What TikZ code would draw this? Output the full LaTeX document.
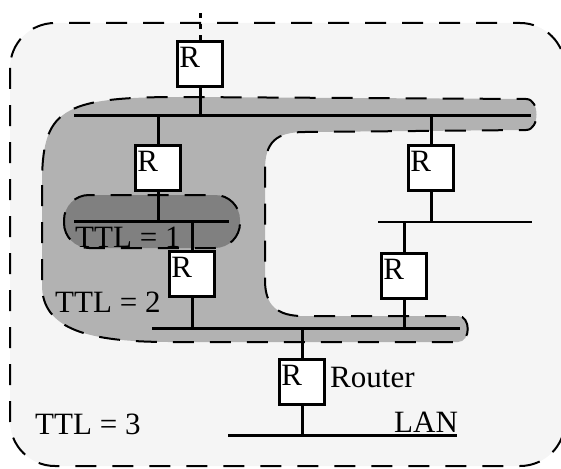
\documentclass[tikz,border=0pt]{standalone}
\usepackage{fontspec}
\setmainfont{Liberation Serif}
\definecolor{bgout}{gray}{0.96}
\definecolor{ttltwo}{gray}{0.70}
\definecolor{ttlone}{gray}{0.50}
\begin{document}
\begin{tikzpicture}[x=1pt,y=-1pt,
  font=\fontsize{31}{31}\selectfont,
  router/.style={draw, line width=3pt, fill=white, inner xsep=1.5pt, inner ysep=0pt, text width=41.5pt, align=left, text height=25.3pt, text depth=19.2pt},
  bus/.style={line width=3pt},
  thinbus/.style={line width=2pt},
  link/.style={line width=3pt},
  lbl/.style={anchor=base west, inner sep=0pt},
  zone/.style={dash pattern=on 21pt off 16pt, line width=2pt},
]
\useasboundingbox (0,0) rectangle (561,468);
\draw[fill=bgout, zone, rounded corners=45pt] (10,23) rectangle (565,466);
% TTL = 2 zone
\draw[fill=ttltwo, zone] (42,185) -- (42,285) .. controls (42,330) and (90,342) .. (170,342) -- (458,342) .. controls (471,342) and (471,316) .. (458,316) -- (300,316) .. controls (272,315) and (265,300) .. (265,280) -- (265,170) .. controls (265,142) and (276,132) .. (305,132) -- (526,130) .. controls (540,130) and (540,99) .. (526,99) -- (180,97) .. controls (60,97) and (42,110) .. (42,185) -- cycle;
% TTL = 1 zone
\draw[fill=ttlone, zone, rounded corners=25pt] (64,195) rectangle (240,248);
% bus end points
\coordinate (tbL) at (74,115); \coordinate (tbR) at (531,115);
\coordinate (b1L) at (74,221); \coordinate (b1R) at (229,221);
\coordinate (rbL) at (378,222); \coordinate (rbR) at (532,222);
\coordinate (bbL) at (152,328); \coordinate (bbR) at (460,328);
\coordinate (lanL) at (228,435); \coordinate (lanR) at (457,435);
\coordinate (up) at (200,9);
\draw[bus] (tbL) -- (tbR);
\draw[bus] (b1L) -- (b1R);
\draw[thinbus] (rbL) -- (rbR);
\draw[bus] (bbL) -- (bbR);
\draw[bus] (lanL) -- (lanR);
% routers
\node[router] (R1) at (200,64) {R};
\node[router] (R2) at (158,168) {R};
\node[router] (R3) at (192,274) {R};
\node[router] (R4) at (431,168) {R};
\node[router] (R5) at (404,276) {R};
\node[router] (R6) at (302,382) {R};
% links
\draw[link, dash pattern=on 5pt off 6pt] (R1.north) -- (up);
\draw[link] (R1.south) -- (R1.south |- tbL);
\draw[link] (R2.north |- tbL) -- (R2.north);
\draw[link] (R2.south) -- (R2.south |- b1L);
\draw[link] (R3.north |- b1L) -- (R3.north);
\draw[link] (R3.south) -- (R3.south |- bbL);
\draw[link] (R4.north |- tbL) -- (R4.north);
\draw[link] (R4.south) -- (R4.south |- rbL);
\draw[link] (R5.north |- rbL) -- (R5.north);
\draw[link] (R5.south) -- (R5.south |- bbL);
\draw[link] (R6.north |- bbL) -- (R6.north);
\draw[link] (R6.south) -- (R6.south |- lanL);
% labels
\node[lbl] (t1) at (75,247) {TTL = 1};
\node[lbl] (t2) at (55,312) {TTL = 2};
\node[lbl] (t3) at (35,434) {TTL = 3};
\node[lbl] (rt) at (330,387) {Router};
\node[lbl] (lan) at (394,432) {LAN};
\end{tikzpicture}
\end{document}
